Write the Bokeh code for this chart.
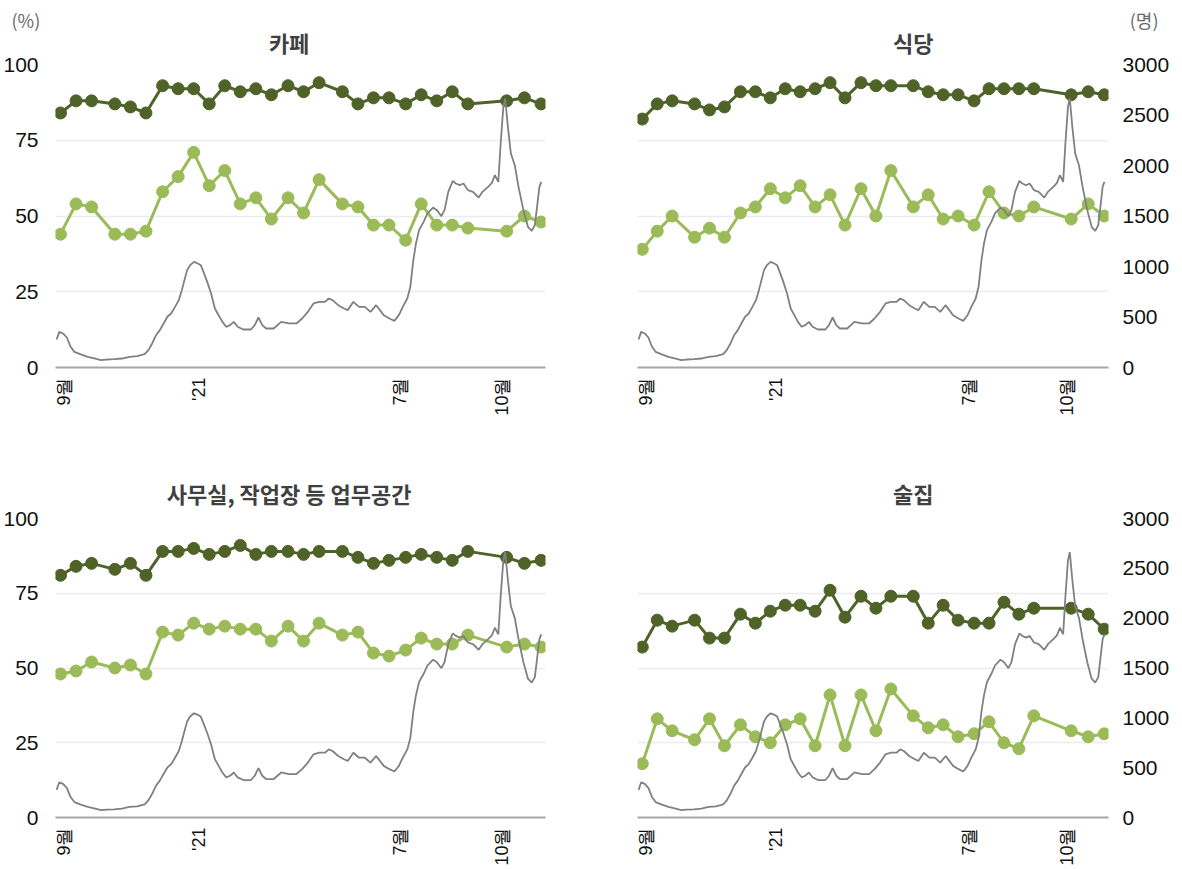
import math
from bokeh.plotting import figure
from bokeh.models import Range1d, LinearAxis, FixedTicker, Title
from bokeh.layouts import column, row
from bokeh.embed import file_html
from bokeh.resources import INLINE

# ---------------- data ----------------
# x positions are days counted from 1 Sep 2020
month_ticks = [0, 122, 303, 395]
month_labels = ["9월", "'21", "7월", "10월"]

survey_day = [-3, 11, 25, 46, 60, 74, 89, 103, 117, 131, 145, 159, 173, 187, 202,
              216, 230, 251, 265, 279, 293, 308, 322, 336, 350, 364, 399, 415, 430]

cafe_dark = [84, 88, 88, 87, 86, 84, 93, 92, 92, 87, 93, 91, 92, 90, 93, 91, 94, 91, 87, 89,
             89, 87, 90, 88, 91, 87, 88, 89, 87]
cafe_light = [44, 54, 53, 44, 44, 45, 58, 63, 71, 60, 65, 54, 56, 49, 56, 51, 62, 54, 53, 47,
              47, 42, 54, 47, 47, 46, 45, 50, 48]

rest_dark = [82, 87, 88, 87, 85, 86, 91, 91, 89, 92, 91, 92, 94, 89, 94, 93, 93, 93, 91, 90,
             90, 88, 92, 92, 92, 92, 90, 91, 90]
rest_light = [39, 45, 50, 43, 46, 43, 51, 53, 59, 56, 60, 53, 57, 47, 59, 50, 65, 53, 57, 49,
              50, 47, 58, 51, 50, 53, 49, 54, 50]

office_dark = [81, 84, 85, 83, 85, 81, 89, 89, 90, 88, 89, 91, 88, 89, 89, 88, 89, 89, 87, 85,
               86, 87, 88, 87, 86, 89, 87, 85, 86]
office_light = [48, 49, 52, 50, 51, 48, 62, 61, 65, 63, 64, 63, 63, 59, 64, 59, 65, 61, 62, 55,
                54, 56, 60, 58, 58, 61, 57, 58, 57]

bar_dark = [57, 66, 64, 66, 60, 60, 68, 65, 69, 71, 71, 69, 76, 67, 74, 70, 74, 74, 65, 71,
            66, 65, 65, 72, 68, 70, 70, 68, 63]
bar_light = [18, 33, 29, 26, 33, 24, 31, 27, 25, 31, 33, 24, 41, 24, 41, 29, 43, 34, 30, 31,
             27, 28, 32, 25, 23, 34, 29, 27, 28]

# daily confirmed cases (persons), right axis
case_day = [-6.5, -4.1, -0.7, 2.7, 6.1, 9.5, 14.7, 21.5, 28.3, 33.5,
            38.6, 45.4, 52.3, 59.1, 66.0, 72.8, 76.2, 79.6, 83.1, 86.5,
            89.9, 93.3, 96.7, 100.2, 103.6, 106.3, 108.7, 111.1, 113.8, 117.3,
            120.7, 123.4, 125.8, 129.2, 132.7, 136.1, 139.5, 142.9, 146.3, 149.8,
            153.2, 156.6, 161.7, 168.6, 172.0, 175.4, 178.8, 182.2, 189.1, 195.9,
            202.8, 209.6, 214.7, 219.9, 225.0, 230.1, 235.3, 238.7, 242.1, 247.2,
            252.4, 255.8, 260.9, 266.0, 271.2, 276.3, 281.4, 284.8, 288.3, 293.4,
            297.8, 301.9, 305.4, 309.5, 312.2, 314.9, 317.3, 320.1, 324.2, 327.6,
            332.7, 336.1, 340.2, 343.0, 346.4, 350.5, 353.2, 356.7, 360.1, 364.2,
            368.6, 373.8, 377.2, 382.3, 385.7, 388.4, 391.5, 393.6, 396.0, 397.7,
            400.1, 402.8, 406.3, 409.7, 414.1, 418.2, 421.6, 424.4, 426.4, 428.5,
            430.2]
case_val = [277, 353, 337, 297, 205, 155, 132, 106, 89, 73,
            79, 82, 89, 106, 112, 132, 172, 238, 320, 370,
            436, 502, 535, 600, 667, 766, 865, 964, 1013, 1046,
            1030, 1013, 947, 848, 733, 584, 518, 452, 403, 419,
            452, 403, 376, 376, 419, 495, 419, 386, 386, 452,
            436, 436, 485, 551, 634, 650, 650, 683, 667, 617,
            584, 568, 650, 600, 600, 551, 617, 568, 518, 485,
            462, 518, 600, 683, 799, 1062, 1228, 1360, 1442, 1525,
            1584, 1558, 1498, 1558, 1739, 1848, 1822, 1805, 1822, 1756,
            1739, 1683, 1739, 1789, 1828, 1904, 1838, 2218, 2580, 2663,
            2383, 2119, 2003, 1789, 1558, 1393, 1353, 1409, 1591, 1789,
            1838]

pct_ticks = [0, 25, 50, 75, 100]
case_ticks = [0, 500, 1000, 1500, 2000, 2500, 3000]

# ---------------- style ----------------
DARK = "#4F6228"
LIGHT = "#9BBB59"
GRAY = "#808080"
NUM_FONT = "Liberation Sans"
KR_FONT = "Noto Sans CJK KR"
X0, X1 = -7.5, 434


def no_ticks(ax):
    ax.major_tick_line_color = None
    ax.minor_tick_line_color = None
    ax.major_tick_out = 0
    ax.major_tick_in = 0
    ax.minor_tick_out = 0
    ax.minor_tick_in = 0


def make_panel(title, dark, light, side, width, height, bl, br, bt, bb,
               title_at, title_standoff, unit_offset, unit_standoff):
    p = figure(width=width, height=height, x_range=Range1d(X0, X1), y_range=Range1d(0, 100),
               x_axis_location="below", y_axis_location=None,
               output_backend="svg", toolbar_location=None,
               min_border_left=bl, min_border_right=br, min_border_top=bt, min_border_bottom=bb)
    p.extra_y_ranges = {"cases": Range1d(0, 3000)}
    p.outline_line_color = None
    p.background_fill_color = "white"
    p.border_fill_color = "white"

    p.xgrid.visible = False
    p.ygrid.ticker = FixedTicker(ticks=[25, 50, 75, 100])
    p.ygrid.grid_line_color = "#ececec"
    p.ygrid.grid_line_width = 1.5

    xa = p.xaxis[0]
    xa.ticker = FixedTicker(ticks=month_ticks)
    xa.major_label_overrides = dict(zip(month_ticks, month_labels))
    xa.major_label_orientation = math.pi / 2
    xa.axis_line_color = "#a6a6a6"
    xa.axis_line_width = 2
    no_ticks(xa)
    xa.major_label_text_font = NUM_FONT
    xa.major_label_text_font_size = "18px"
    xa.major_label_text_color = "#111111"
    xa.major_label_standoff = 10

    if side == "left":
        ya = LinearAxis(ticker=FixedTicker(ticks=pct_ticks), major_label_standoff=17)
        p.add_layout(ya, "left")
        unit, unit_align = "(%)", "left"
    else:
        ya = LinearAxis(y_range_name="cases", ticker=FixedTicker(ticks=case_ticks),
                        major_label_standoff=14)
        p.add_layout(ya, "right")
        unit, unit_align = "(명)", "right"
    ya.axis_line_color = None
    no_ticks(ya)
    ya.major_label_text_font = NUM_FONT
    ya.major_label_text_font_size = "21px"
    ya.major_label_text_color = "#111111"

    # panel title: a single centred label on an axis above the frame
    ta = LinearAxis(ticker=FixedTicker(ticks=[title_at]),
                    major_label_overrides={title_at: title},
                    major_label_standoff=title_standoff)
    ta.axis_line_color = None
    no_ticks(ta)
    ta.major_label_text_font = KR_FONT
    ta.major_label_text_font_size = "22px"
    ta.major_label_text_font_style = "bold"
    ta.major_label_text_color = "#404040"
    p.add_layout(ta, "above")

    if unit_offset is not None:
        p.add_layout(Title(text=unit, align=unit_align, offset=unit_offset,
                           standoff=unit_standoff, text_font=KR_FONT,
                           text_font_size="18px", text_font_style="normal",
                           text_color="#6a6a6a"), "above")

    p.line(survey_day, light, line_color=LIGHT, line_width=3)
    p.scatter(survey_day, light, size=12, fill_color=LIGHT, line_color=LIGHT)
    p.line(survey_day, dark, line_color=DARK, line_width=3)
    p.scatter(survey_day, dark, size=12, fill_color=DARK, line_color=DARK)
    p.line(case_day, case_val, y_range_name="cases", line_color=GRAY, line_width=1.8)
    return p


p1 = make_panel("카페", cafe_dark, cafe_light, "left", 590, 440, 55, 45, 64, 73,
                203, 7, -44, -20)
p2 = make_panel("식당", rest_dark, rest_light, "right", 590, 440, 47, 72, 64, 73,
                251, 7, -50, -20)
p3 = make_panel("사무실, 작업장 등 업무공간", office_dark, office_light, "left", 590, 428, 55, 45, 78, 49,
                203, 10, None, 0)
p4 = make_panel("술집", bar_dark, bar_light, "right", 590, 428, 47, 72, 78, 49,
                251, 10, None, 0)

layout = column(row(p1, p2), row(p3, p4))
open("out.html", "w").write(file_html(layout, INLINE))
